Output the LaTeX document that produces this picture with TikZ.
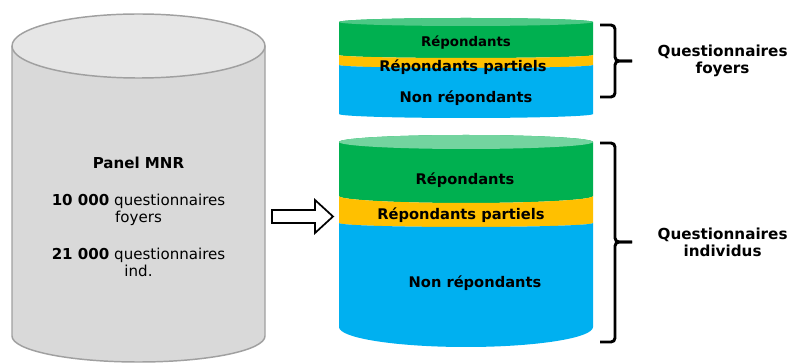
\documentclass[tikz,border=0pt]{standalone}
\usepackage{fontspec}
\setmainfont{DejaVu Sans}
\usetikzlibrary{positioning}

\definecolor{resgreen}{HTML}{00B050}
\definecolor{resyellow}{HTML}{FFC000}
\definecolor{resblue}{HTML}{00B0F0}
\definecolor{greybody}{HTML}{D9D9D9}
\definecolor{greytop}{HTML}{E6E6E6}
\definecolor{greyline}{HTML}{A0A0A0}

\tikzset{
	lbl/.style={font=\bfseries\fontsize{11}{13}\selectfont, inner sep=0pt, anchor=base},
	panel/.style={align=center, inner sep=0pt, font=\fontsize{11.3}{12.75}\selectfont},
	qlabel/.style={align=center, inner sep=0pt, font=\bfseries\fontsize{11.4}{12.75}\selectfont},
	bracket/.style={line width=2.2pt, rounded corners=3pt},
}

\begin{document}
\begin{tikzpicture}[x=0.75pt,y=-0.75pt]
		\useasboundingbox (0,0) rectangle (793,363);
		% Panel cylinder
		\filldraw[fill=greybody, draw=greyline, line width=1.1pt] (12,46) -- (12,336) arc[start angle=180, end angle=0, x radius=126.5, y radius=26] -- (265,46);
		\filldraw[fill=greytop, draw=greyline, line width=1.1pt] (138.5,46) ellipse[x radius=126.5, y radius=32];
		\node[panel] (panel) at (138.5,217) {\textbf{Panel MNR}\\[15pt]\textbf{10 000} questionnaires\\foyers\\[15pt]\textbf{21 000} questionnaires\\ind.};
		
		% Hollow arrow
		\draw[line width=1.3pt, fill=white] (272,210) -- (315,210) -- (315,200) -- (333,216.5) -- (315,233) -- (315,223) -- (272,223) -- cycle;
		
		% Household questionnaires
		\fill[resgreen] (339,22) arc[start angle=180, end angle=360, x radius=127, y radius=4] -- (593,55) arc[start angle=0, end angle=180, x radius=127, y radius=3] -- cycle;
		\fill[resyellow] (339,55) arc[start angle=180, end angle=0, x radius=127, y radius=3] -- (593,65) arc[start angle=0, end angle=180, x radius=127, y radius=3] -- cycle;
		\fill[resblue] (339,65) arc[start angle=180, end angle=0, x radius=127, y radius=3] -- (593,114) arc[start angle=0, end angle=180, x radius=127, y radius=4] -- cycle;
		\fill[resgreen!70!white] (466,22) ellipse[x radius=127, y radius=4];
		\node[lbl, font=\bfseries\fontsize{10}{12}\selectfont] (frep) at (466,47) {Répondants};
		\node[lbl] (fpart) at (463,72) {Répondants partiels};
		\node[lbl] (fnon) at (466,103) {Non répondants};
		
		% Individual questionnaires
		\fill[resgreen] (339,142) arc[start angle=180, end angle=360, x radius=127, y radius=7] -- (593,196) arc[start angle=0, end angle=180, x radius=127, y radius=7] -- cycle;
		\fill[resyellow] (339,196) arc[start angle=180, end angle=0, x radius=127, y radius=7] -- (593,223) arc[start angle=0, end angle=180, x radius=127, y radius=4] -- cycle;
		\fill[resblue] (339,223) arc[start angle=180, end angle=0, x radius=127, y radius=4] -- (593,327) arc[start angle=0, end angle=180, x radius=127, y radius=20] -- cycle;
		\fill[resgreen!55!white] (466,142) ellipse[x radius=127, y radius=7];
		\node[lbl] (irep) at (465,185) {Répondants};
		\node[lbl] (ipart) at (461,220) {Répondants partiels};
		\node[lbl] (inon) at (475,288) {Non répondants};
		
		% Brackets
		\coordinate (ftip) at (632,61);
		\coordinate (itip) at (632,242);
		\draw[bracket] (600,25) -| (615,61) -- (ftip);
		\draw[bracket] (ftip) -- (615,61) |- (600,97);
		\draw[bracket] (600,143) -| (615,242) -- (itip);
		\draw[bracket] (itip) -- (615,242) |- (600,342);
		\node[qlabel, right=19pt of ftip] (qfoyers) {Questionnaires\\foyers};
		\node[qlabel, right=19pt of itip] (qindiv) {Questionnaires\\individus};
	\end{tikzpicture}
\end{document}
